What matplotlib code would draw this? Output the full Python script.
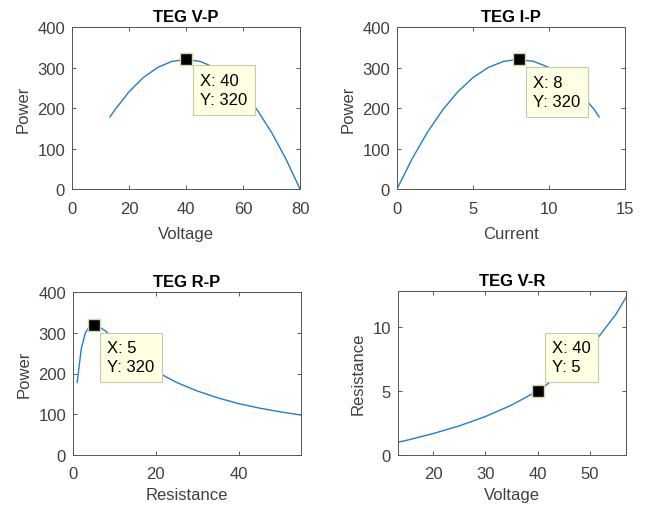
import matplotlib.pyplot as plt

plt.rcParams['font.family'] = ['Liberation Sans', 'DejaVu Sans']
plt.rcParams['font.size'] = 12

# TEG V-P
vp_v = [13.3, 15, 20, 25, 30, 35, 40, 45, 50, 55, 60, 65, 70, 75, 80]
vp_p = [178, 195, 240, 275, 300, 315, 320, 315, 300, 275, 240, 195, 140, 75, 0]

# TEG I-P
ip_i = [0, 1, 2, 3, 4, 5, 6, 7, 8, 9, 10, 11, 12, 13, 13.3]
ip_p = [0, 75, 140, 195, 240, 275, 300, 315, 320, 315, 300, 275, 240, 195, 178]

# TEG R-P
rp_r = [1, 2, 3, 4, 5, 6, 8, 10, 15, 20, 25, 30, 35, 40, 45, 50, 55]
rp_p = [178, 261, 300, 316, 320, 317, 303, 284, 240, 205, 178, 157, 140, 126, 115, 106, 98]

# TEG V-R
vr_v = [13.3, 15, 20, 25, 30, 35, 40, 45, 50, 55, 56.9]
vr_r = [1.0, 1.15, 1.67, 2.27, 3.0, 3.89, 5.0, 6.43, 8.33, 11.0, 12.3]

line_col = '#1f80c8'
fig = plt.figure(figsize=(6.51, 5.06), dpi=100)
W, H = 651, 506

def make_ax(l, t, r, b):
    return fig.add_axes([l / W, 1 - b / H, (r - l) / W, (b - t) / H])

def style(ax, title, xlabel, ylabel, xpad=7, tpad=9):
    ax.set_title(title, fontweight='bold', fontsize=12, pad=4)
    ax.set_xlabel(xlabel, color='#404040', labelpad=xpad)
    ax.set_ylabel(ylabel, color='#404040', labelpad=5)
    ax.tick_params(direction='in', top=True, right=True, length=3,
                   colors='#404040', labelcolor='#404040', width=0.6)
    ax.tick_params(axis='x', pad=tpad)
    ax.tick_params(axis='y', pad=5)
    for s in ax.spines.values():
        s.set_color('#555555')
        s.set_linewidth(0.7)

# dx, dy: pixel offset from the marker to the box's near corner
def datatip(ax, x, y, txt, dx, dy, below=True):
    ax.plot([x], [y], 's', color='black', markersize=8,
            markeredgecolor='#d8d3a0', markeredgewidth=1, zorder=5)
    pad_px = 0.45 * 12 / 0.72
    ox = (dx + pad_px) * 0.72
    if below:
        oy = -(dy + pad_px) * 0.72
        va = 'top'
    else:
        oy = (dy + pad_px) * 0.72
        va = 'bottom'
    ax.annotate(txt, xy=(x, y), xytext=(ox, oy), textcoords='offset points',
                ha='left', va=va, fontsize=12, color='black', linespacing=1.35,
                bbox=dict(boxstyle='square,pad=0.45', fc='#ffffe1', ec='#c8c8b4', lw=0.8),
                zorder=6)

ax1 = make_ax(72, 28, 300, 190)
ax1.plot(vp_v, vp_p, color=line_col, lw=1)
ax1.set_xlim(0, 80)
ax1.set_ylim(0, 400)
ax1.set_xticks([0, 20, 40, 60, 80])
ax1.set_yticks([0, 100, 200, 300, 400])
style(ax1, 'TEG V-P', 'Voltage', 'Power')
datatip(ax1, 40, 320, 'X: 40\nY: 320', 7, 6)

ax2 = make_ax(397, 28, 625, 190)
ax2.plot(ip_i, ip_p, color=line_col, lw=1)
ax2.set_xlim(0, 15)
ax2.set_ylim(0, 400)
ax2.set_xticks([0, 5, 10, 15])
ax2.set_yticks([0, 100, 200, 300, 400])
style(ax2, 'TEG I-P', 'Current', 'Power')
datatip(ax2, 8, 320, 'X: 8\nY: 320', 7, 8)

ax3 = make_ax(73, 293, 301, 456)
ax3.plot(rp_r, rp_p, color=line_col, lw=1)
ax3.set_xlim(0, 55)
ax3.set_ylim(0, 400)
ax3.set_xticks([0, 20, 40])
ax3.set_yticks([0, 100, 200, 300, 400])
style(ax3, 'TEG R-P', 'Resistance', 'Power', xpad=4, tpad=8)
datatip(ax3, 5, 320, 'X: 5\nY: 320', 6, 8)

ax4 = make_ax(398, 292, 626, 456)
ax4.plot(vr_v, vr_r, color=line_col, lw=1)
ax4.set_xlim(13.3, 56.9)
ax4.set_ylim(0, 12.8)
ax4.set_xticks([20, 30, 40, 50])
ax4.set_yticks([0, 5, 10])
style(ax4, 'TEG V-R', 'Voltage', 'Resistance', xpad=4, tpad=8)
datatip(ax4, 40, 5, 'X: 40\nY: 5', 7, 9, below=False)

fig.savefig('out.png', dpi=100)
